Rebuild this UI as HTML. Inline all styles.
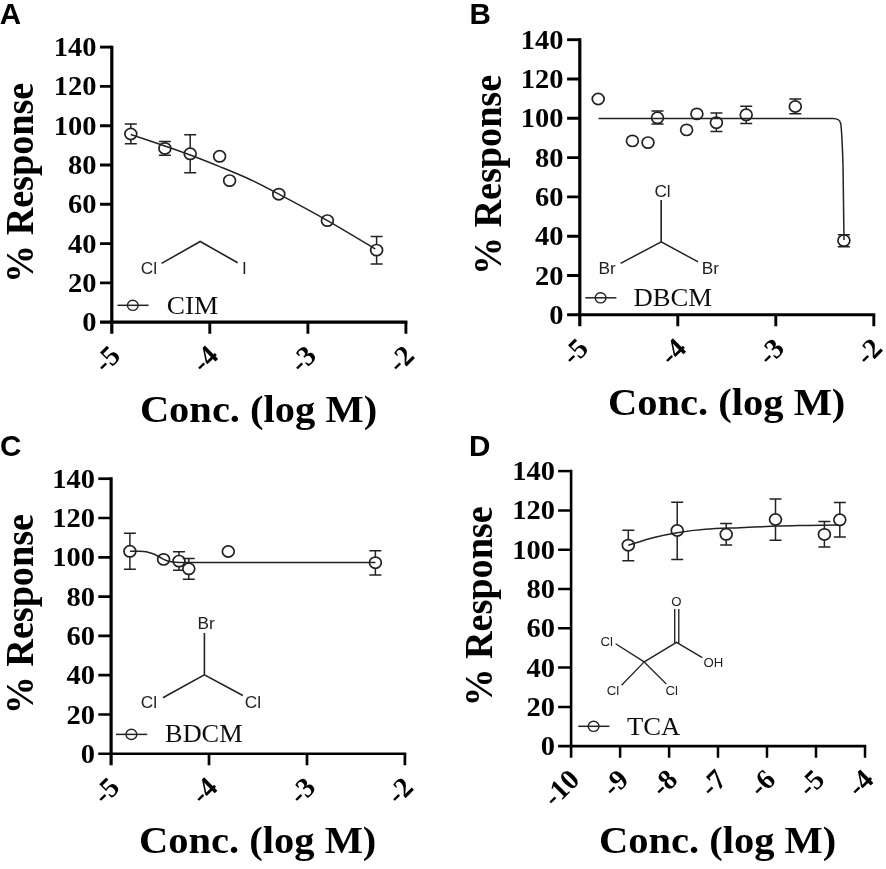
<!DOCTYPE html>
<html><head><meta charset="utf-8"><title>Figure</title>
<style>
html,body{margin:0;padding:0;background:#fff;}
svg{display:block;}
.ax{fill:none;stroke:#000;stroke-width:3;}
.cv{fill:none;stroke:#222;stroke-width:1.5;}
.eb{fill:none;stroke:#222;stroke-width:1.5;}
.pt{fill:#fff;stroke:#222;stroke-width:1.7;}
.lpt{fill:none;stroke:#222;stroke-width:1.4;}
.bd{fill:none;stroke:#222;stroke-width:1.6;}
.bd2{fill:none;stroke:#222;stroke-width:1.35;}
.tk{font-family:"Liberation Serif", serif;font-weight:bold;font-size:28.5px;fill:#000;}
.ttl{font-family:"Liberation Serif", serif;font-weight:bold;font-size:40.5px;fill:#000;}
.lg{font-family:"Liberation Serif", serif;font-size:26.7px;fill:#111;}
.let{font-family:"Liberation Sans", sans-serif;font-weight:bold;font-size:29.6px;fill:#000;}
.ch{font-family:"Liberation Sans", sans-serif;font-size:17.3px;fill:#222;}
.ch2{font-family:"Liberation Sans", sans-serif;font-size:13.2px;fill:#222;}
</style></head><body>
<svg width="886" height="869" viewBox="0 0 886 869">
<defs><filter id="soft" x="0" y="0" width="100%" height="100%" filterUnits="userSpaceOnUse"><feGaussianBlur stdDeviation="0.4"/></filter></defs>
<rect width="886" height="869" fill="#fff"/>
<g filter="url(#soft)">
<g class="panel">
<path class="ax" style="stroke-width:3.2" d="M111.8,45.65 V333.7" />
<path class="ax" style="stroke-width:2.9" d="M100.0,47.1 H111.8" />
<path class="ax" style="stroke-width:3.2" d="M100.0,322.2 H407.4" />
<path class="ax" style="stroke-width:2.9" d="M100.0,282.9 H111.8 M100.0,243.6 H111.8 M100.0,204.3 H111.8 M100.0,165.0 H111.8 M100.0,125.7 H111.8 M100.0,86.4 H111.8 M209.8,322.2 V333.7 M307.9,322.2 V333.7 M405.9,322.2 V333.7 " />
<text class="tk" transform="translate(96.5,331.2) scale(1,0.945)" text-anchor="end">0</text>
<text class="tk" transform="translate(96.5,291.9) scale(1,0.945)" text-anchor="end">20</text>
<text class="tk" transform="translate(96.5,252.6) scale(1,0.945)" text-anchor="end">40</text>
<text class="tk" transform="translate(96.5,213.3) scale(1,0.945)" text-anchor="end">60</text>
<text class="tk" transform="translate(96.5,174.0) scale(1,0.945)" text-anchor="end">80</text>
<text class="tk" transform="translate(96.5,134.7) scale(1,0.945)" text-anchor="end">100</text>
<text class="tk" transform="translate(96.5,95.4) scale(1,0.945)" text-anchor="end">120</text>
<text class="tk" transform="translate(96.5,56.1) scale(1,0.945)" text-anchor="end">140</text>
<text class="tk" transform="translate(121.8,357.2) rotate(-45)" text-anchor="end">-5</text>
<text class="tk" transform="translate(219.8,357.2) rotate(-45)" text-anchor="end">-4</text>
<text class="tk" transform="translate(317.9,357.2) rotate(-45)" text-anchor="end">-3</text>
<text class="tk" transform="translate(415.9,357.2) rotate(-45)" text-anchor="end">-2</text>
<text class="ttl" transform="translate(33.2,182.9) rotate(-90) scale(0.942,1)" text-anchor="middle">% Response</text>
<text class="ttl" transform="translate(258.5,421.7) scale(1,0.945)" text-anchor="middle">Conc. (log M)</text>
<text class="let" x="-0.3" y="24.0">A</text>
<path class="eb" d="M124.8,123.9 H136.8 M124.8,143.7 H136.8 M130.8,123.9 V143.7" />
<ellipse class="pt" cx="130.8" cy="134.0" rx="5.95" ry="5.6" />
<path class="eb" d="M158.9,141.6 H170.9 M158.9,155.3 H170.9 M164.9,141.6 V155.3" />
<ellipse class="pt" cx="164.9" cy="148.4" rx="5.95" ry="5.6" />
<path class="eb" d="M184.2,134.8 H196.2 M184.2,172.7 H196.2 M190.2,134.8 V172.7" />
<ellipse class="pt" cx="190.2" cy="153.8" rx="5.95" ry="5.6" />
<ellipse class="pt" cx="219.6" cy="156.3" rx="5.95" ry="5.6" />
<ellipse class="pt" cx="229.6" cy="180.6" rx="5.95" ry="5.6" />
<ellipse class="pt" cx="278.8" cy="194.2" rx="5.95" ry="5.6" />
<ellipse class="pt" cx="327.4" cy="220.6" rx="5.95" ry="5.6" />
<path class="eb" d="M370.6,236.5 H382.6 M370.6,264.1 H382.6 M376.6,236.5 V264.1" />
<ellipse class="pt" cx="376.6" cy="250.1" rx="5.95" ry="5.6" />
<path class="cv" d="M130.8,134.5 C136.5,136.4 155.0,142.6 164.9,146.0 C174.8,149.4 181.1,151.6 190.2,155.0 C199.3,158.4 209.6,162.5 219.6,166.6 C229.6,170.7 240.1,174.9 250.0,179.5 C259.9,184.1 265.9,187.3 278.8,194.2 C291.7,201.0 311.3,211.5 327.4,220.6 C343.5,229.7 367.3,244.2 375.3,248.9" />
<path class="cv" d="M117.5,305.3 H148.6" />
<ellipse class="lpt" cx="132.8" cy="305.3" rx="5.4" ry="5.1" />
<text class="lg" style="font-size:27.3px" transform="translate(166.8,313.8) scale(1,0.95)">CIM</text>
<path class="bd" d="M161.6,263.4 L200.2,241.5 L237.7,262.7" /><text class="ch" x="140.7" y="273.7">Cl</text><text class="ch" x="244.3" y="273.7" text-anchor="middle">I</text>
</g>
<g class="panel">
<path class="ax" style="stroke-width:3.2" d="M579.8,38.25 V326.3" />
<path class="ax" style="stroke-width:2.9" d="M567.1,39.7 H579.8" />
<path class="ax" style="stroke-width:2.9" d="M567.1,314.8 H875.2" />
<path class="ax" style="stroke-width:2.9" d="M567.1,275.5 H579.8 M567.1,236.2 H579.8 M567.1,196.9 H579.8 M567.1,157.6 H579.8 M567.1,118.3 H579.8 M567.1,79.0 H579.8 M677.8,314.8 V326.3 M775.8,314.8 V326.3 M873.8,314.8 V326.3 " />
<text class="tk" transform="translate(563.4,323.8) scale(1,0.945)" text-anchor="end">0</text>
<text class="tk" transform="translate(563.4,284.5) scale(1,0.945)" text-anchor="end">20</text>
<text class="tk" transform="translate(563.4,245.2) scale(1,0.945)" text-anchor="end">40</text>
<text class="tk" transform="translate(563.4,205.9) scale(1,0.945)" text-anchor="end">60</text>
<text class="tk" transform="translate(563.4,166.6) scale(1,0.945)" text-anchor="end">80</text>
<text class="tk" transform="translate(563.4,127.3) scale(1,0.945)" text-anchor="end">100</text>
<text class="tk" transform="translate(563.4,88.0) scale(1,0.945)" text-anchor="end">120</text>
<text class="tk" transform="translate(563.4,48.7) scale(1,0.945)" text-anchor="end">140</text>
<text class="tk" transform="translate(589.8,349.8) rotate(-45)" text-anchor="end">-5</text>
<text class="tk" transform="translate(687.8,349.8) rotate(-45)" text-anchor="end">-4</text>
<text class="tk" transform="translate(785.8,349.8) rotate(-45)" text-anchor="end">-3</text>
<text class="tk" transform="translate(883.8,349.8) rotate(-45)" text-anchor="end">-2</text>
<text class="ttl" transform="translate(501.0,175.0) rotate(-90) scale(0.942,1)" text-anchor="middle">% Response</text>
<text class="ttl" transform="translate(726.7,414.6) scale(1,0.945)" text-anchor="middle">Conc. (log M)</text>
<text class="let" x="469.4" y="24.0">B</text>
<ellipse class="pt" cx="598.2" cy="99.0" rx="5.95" ry="5.6" />
<ellipse class="pt" cx="632.4" cy="140.9" rx="5.95" ry="5.6" />
<ellipse class="pt" cx="648.0" cy="142.6" rx="5.95" ry="5.6" />
<path class="eb" d="M651.5,111.0 H663.5 M651.5,124.0 H663.5 M657.5,111.0 V124.0" />
<ellipse class="pt" cx="657.5" cy="117.8" rx="5.95" ry="5.6" />
<ellipse class="pt" cx="686.6" cy="129.9" rx="5.95" ry="5.6" />
<ellipse class="pt" cx="696.9" cy="113.9" rx="5.95" ry="5.6" />
<path class="eb" d="M710.4,113.0 H722.4 M710.4,131.6 H722.4 M716.4,113.0 V131.6" />
<ellipse class="pt" cx="716.4" cy="122.7" rx="5.95" ry="5.6" />
<path class="eb" d="M740.2,106.3 H752.2 M740.2,123.5 H752.2 M746.2,106.3 V123.5" />
<ellipse class="pt" cx="746.2" cy="114.8" rx="5.95" ry="5.6" />
<path class="eb" d="M789.3,99.1 H801.3 M789.3,113.8 H801.3 M795.3,99.1 V113.8" />
<ellipse class="pt" cx="795.3" cy="106.5" rx="5.95" ry="5.6" />
<path class="eb" d="M837.9,234.8 H849.9 M837.9,246.8 H849.9 M843.9,234.8 V246.8" />
<ellipse class="pt" cx="843.9" cy="240.6" rx="5.95" ry="5.6" />
<path class="cv" d="M598.5,118.6 H833 C837.5,118.6 840,119.5 840.8,124 C842,133 842.5,150 843,165 L844,240" />
<path class="cv" d="M585.3,297.8 H616.4" />
<ellipse class="lpt" cx="600.6" cy="297.8" rx="5.4" ry="5.1" />
<text class="lg" style="font-size:26.7px" transform="translate(633.4,305.8) scale(1,0.95)">DBCM</text>
<path class="bd" d="M620.6,263.4 L661.2,241.9 L698.1,261.9 M661.2,241.9 V200.1" /><text class="ch" x="598.6" y="273.6">Br</text><text class="ch" x="701.7" y="273.6">Br</text><text class="ch" x="654.4" y="196.7">Cl</text>
</g>
<g class="panel">
<path class="ax" style="stroke-width:3.2" d="M111.1,477.35 V765.3" />
<path class="ax" style="stroke-width:2.7" d="M98.3,478.7 H111.1" />
<path class="ax" style="stroke-width:2.6" d="M98.3,753.8 H406.2" />
<path class="ax" style="stroke-width:2.7" d="M98.3,714.5 H111.1 M98.3,675.2 H111.1 M98.3,635.9 H111.1 M98.3,596.6 H111.1 M98.3,557.3 H111.1 M98.3,518.0 H111.1 M209.0,753.8 V765.3 M307.0,753.8 V765.3 M404.9,753.8 V765.3 " />
<text class="tk" transform="translate(95.1,762.8) scale(1,0.945)" text-anchor="end">0</text>
<text class="tk" transform="translate(95.1,723.5) scale(1,0.945)" text-anchor="end">20</text>
<text class="tk" transform="translate(95.1,684.2) scale(1,0.945)" text-anchor="end">40</text>
<text class="tk" transform="translate(95.1,644.9) scale(1,0.945)" text-anchor="end">60</text>
<text class="tk" transform="translate(95.1,605.6) scale(1,0.945)" text-anchor="end">80</text>
<text class="tk" transform="translate(95.1,566.3) scale(1,0.945)" text-anchor="end">100</text>
<text class="tk" transform="translate(95.1,527.0) scale(1,0.945)" text-anchor="end">120</text>
<text class="tk" transform="translate(95.1,487.7) scale(1,0.945)" text-anchor="end">140</text>
<text class="tk" transform="translate(121.1,788.8) rotate(-45)" text-anchor="end">-5</text>
<text class="tk" transform="translate(219.0,788.8) rotate(-45)" text-anchor="end">-4</text>
<text class="tk" transform="translate(317.0,788.8) rotate(-45)" text-anchor="end">-3</text>
<text class="tk" transform="translate(414.9,788.8) rotate(-45)" text-anchor="end">-2</text>
<text class="ttl" transform="translate(33.1,614.2) rotate(-90) scale(0.942,1)" text-anchor="middle">% Response</text>
<text class="ttl" transform="translate(257.7,853.4) scale(1,0.945)" text-anchor="middle">Conc. (log M)</text>
<text class="let" x="0.0" y="456.1">C</text>
<path class="eb" d="M123.9,533.2 H135.9 M123.9,569.3 H135.9 M129.9,533.2 V569.3" />
<ellipse class="pt" cx="129.9" cy="551.3" rx="5.95" ry="5.6" />
<ellipse class="pt" cx="163.6" cy="559.4" rx="5.95" ry="5.6" />
<path class="eb" d="M173.0,551.7 H185.0 M173.0,570.3 H185.0 M179.0,551.7 V570.3" />
<ellipse class="pt" cx="179.0" cy="561.1" rx="5.95" ry="5.6" />
<path class="eb" d="M182.8,558.6 H194.8 M182.8,579.3 H194.8 M188.8,558.6 V579.3" />
<ellipse class="pt" cx="188.8" cy="568.8" rx="5.95" ry="5.6" />
<ellipse class="pt" cx="228.3" cy="551.5" rx="5.95" ry="5.6" />
<path class="eb" d="M369.4,550.8 H381.4 M369.4,574.9 H381.4 M375.4,550.8 V574.9" />
<ellipse class="pt" cx="375.4" cy="562.7" rx="5.95" ry="5.6" />
<path class="cv" d="M129.9,551.3 H140 C150,551.3 156,555 163.6,559.4 C169,562 173,562.5 180,562.5 H375.4" />
<path class="cv" d="M116.1,734.4 H147.2" />
<ellipse class="lpt" cx="131.4" cy="734.4" rx="5.4" ry="5.1" />
<text class="lg" style="font-size:26.3px" transform="translate(165.1,741.9) scale(1,0.95)">BDCM</text>
<path class="bd" d="M162.9,697.7 L204.4,674.8 L242.8,695.5 M204.4,674.8 V632.9" /><text class="ch" x="140.7" y="707.9">Cl</text><text class="ch" x="244.8" y="707.9">Cl</text><text class="ch" x="197.5" y="628.6">Br</text>
</g>
<g class="panel">
<path class="ax" style="stroke-width:2.6" d="M571.1,469.85 V757.7" />
<path class="ax" style="stroke-width:2.5" d="M558.1,471.1 H571.1" />
<path class="ax" style="stroke-width:2.7" d="M558.1,746.2 H866.2" />
<path class="ax" style="stroke-width:2.5" d="M558.1,706.9 H571.1 M558.1,667.6 H571.1 M558.1,628.3 H571.1 M558.1,589.0 H571.1 M558.1,549.7 H571.1 M558.1,510.4 H571.1 M620.1,746.2 V757.7 M669.1,746.2 V757.7 M718.0,746.2 V757.7 M767.0,746.2 V757.7 M816.0,746.2 V757.7 M865.0,746.2 V757.7 " />
<text class="tk" transform="translate(555.1,755.2) scale(1,0.945)" text-anchor="end">0</text>
<text class="tk" transform="translate(555.1,715.9) scale(1,0.945)" text-anchor="end">20</text>
<text class="tk" transform="translate(555.1,676.6) scale(1,0.945)" text-anchor="end">40</text>
<text class="tk" transform="translate(555.1,637.3) scale(1,0.945)" text-anchor="end">60</text>
<text class="tk" transform="translate(555.1,598.0) scale(1,0.945)" text-anchor="end">80</text>
<text class="tk" transform="translate(555.1,558.7) scale(1,0.945)" text-anchor="end">100</text>
<text class="tk" transform="translate(555.1,519.4) scale(1,0.945)" text-anchor="end">120</text>
<text class="tk" transform="translate(555.1,480.1) scale(1,0.945)" text-anchor="end">140</text>
<text class="tk" transform="translate(581.1,781.2) rotate(-45)" text-anchor="end">-10</text>
<text class="tk" transform="translate(630.1,781.2) rotate(-45)" text-anchor="end">-9</text>
<text class="tk" transform="translate(679.1,781.2) rotate(-45)" text-anchor="end">-8</text>
<text class="tk" transform="translate(728.0,781.2) rotate(-45)" text-anchor="end">-7</text>
<text class="tk" transform="translate(777.0,781.2) rotate(-45)" text-anchor="end">-6</text>
<text class="tk" transform="translate(826.0,781.2) rotate(-45)" text-anchor="end">-5</text>
<text class="tk" transform="translate(875.0,781.2) rotate(-45)" text-anchor="end">-4</text>
<text class="ttl" transform="translate(491.5,606.5) rotate(-90) scale(0.942,1)" text-anchor="middle">% Response</text>
<text class="ttl" transform="translate(717.6,853.4) scale(1,0.945)" text-anchor="middle">Conc. (log M)</text>
<text class="let" x="469.1" y="455.8">D</text>
<path class="eb" d="M622.3,530.2 H634.3 M622.3,560.7 H634.3 M628.3,530.2 V560.7" />
<ellipse class="pt" cx="628.3" cy="545.2" rx="5.95" ry="5.6" />
<path class="eb" d="M671.2,502.3 H683.2 M671.2,559.5 H683.2 M677.2,502.3 V559.5" />
<ellipse class="pt" cx="677.2" cy="530.5" rx="5.95" ry="5.6" />
<path class="eb" d="M720.2,523.4 H732.2 M720.2,544.9 H732.2 M726.2,523.4 V544.9" />
<ellipse class="pt" cx="726.2" cy="534.3" rx="5.95" ry="5.6" />
<path class="eb" d="M769.5,498.9 H781.5 M769.5,540.3 H781.5 M775.5,498.9 V540.3" />
<ellipse class="pt" cx="775.5" cy="519.5" rx="5.95" ry="5.6" />
<path class="eb" d="M818.4,521.4 H830.4 M818.4,546.9 H830.4 M824.4,521.4 V546.9" />
<ellipse class="pt" cx="824.4" cy="534.4" rx="5.95" ry="5.6" />
<path class="eb" d="M833.8,502.6 H845.8 M833.8,537.1 H845.8 M839.8,502.6 V537.1" />
<ellipse class="pt" cx="839.8" cy="519.8" rx="5.95" ry="5.6" />
<path class="cv" d="M628.3,545.2 C632.6,543.9 645.9,539.6 654.0,537.5 C662.1,535.4 668.6,534.1 677.2,532.7 C685.8,531.3 694.9,530.1 705.4,529.3 C715.9,528.5 728.3,528.2 740.0,527.7 C751.7,527.2 764.5,526.5 775.5,526.1 C786.5,525.7 795.6,525.6 806.0,525.4 C816.4,525.2 832.7,525.1 838.0,525.1" />
<path class="cv" d="M578.3,726.3 H609.4" />
<ellipse class="lpt" cx="593.6" cy="726.3" rx="5.4" ry="5.1" />
<text class="lg" style="font-size:26.7px" transform="translate(627.0,734.5) scale(1,0.95)">TCA</text>
<path class="bd2" d="M615.6,643.8 L644.2,661.9 L676.5,642.4 L702.3,657.7 M644.2,661.9 L621.6,685.2 M644.2,661.9 L666.2,683.9 M674.7,643.2 V609 M678.8,643.2 V609" /><text class="ch2" x="600.5" y="646.3">Cl</text><text class="ch2" x="606.8" y="694.7">Cl</text><text class="ch2" x="665.5" y="694.7">Cl</text><text class="ch2" x="703.5" y="666.7">OH</text><text class="ch2" x="676.4" y="605.6" text-anchor="middle">O</text>
</g>
</g></svg></body></html>
